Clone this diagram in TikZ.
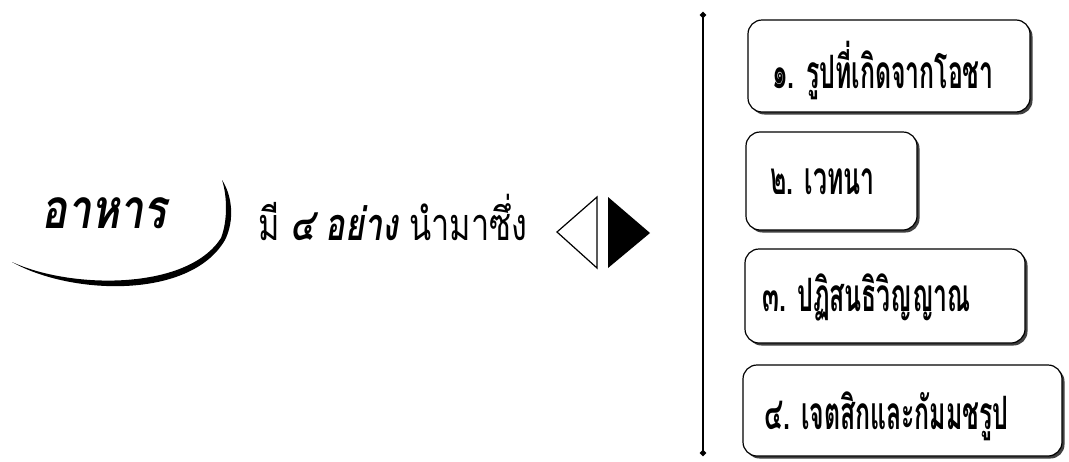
\documentclass[tikz,border=0pt]{standalone}
\usepackage{fontspec}
\newfontfamily\thai[Script=Thai]{Loma}
\newfontfamily\thaimid[Script=Thai,FakeStretch=0.72]{Loma}
\newfontfamily\thainarrow[Script=Thai,FakeStretch=0.54]{Loma}
\newfontfamily\thaititle[Script=Thai,FakeStretch=0.78]{Loma}
\usetikzlibrary{shadows,shapes.geometric}
\begin{document}
\begin{tikzpicture}[x=1pt,y=-1pt,
  itembox/.style={draw=black,line width=1.2pt,rounded corners=14pt,fill=white,
    drop shadow={shadow xshift=2.5pt,shadow yshift=-2.5pt,fill=black!75,opacity=1},
    inner sep=0pt},
  itemtext/.style={anchor=west,inner sep=0pt,font=\thainarrow\bfseries\fontsize{46}{50}\selectfont},
  dia/.style={fill=black,draw=none,diamond,inner sep=0pt,minimum size=7pt}]
\useasboundingbox (0,0) rectangle (1069,461);
\fill[white] (0,0) rectangle (1069,461);
% title and arc
\node[inner sep=0pt,font=\thaititle\bfseries\itshape\fontsize{55}{59}\selectfont] (food) at (104,213) {อาหาร};
\fill[black] (12,262) .. controls (70,295) and (190,300) .. (225,240)
  .. controls (235,220) and (232,195) .. (222,180)
  .. controls (227,195) and (228,220) .. (221,238)
  .. controls (187,291) and (70,289) .. (12,262) -- cycle;
\node[anchor=west,inner sep=0pt,font=\thaimid\fontsize{45}{49}\selectfont] (has) at (258,217)
  {มี {\bfseries\itshape ๔ อย่าง} นำมาซึ่ง};
% triangles
\draw[line width=1.2pt,line join=miter] (557,232) -- (597,197) -- (597,268) -- cycle;
\fill[black] (608,197) -- (650,233) -- (608,268) -- cycle;
% vertical line
\coordinate (top) at (703,15);
\coordinate (bot) at (703,453);
\draw[line width=1.3pt] (top) -- (bot);
\node[dia] (dtop) at (top) {};
\node[dia] (dbot) at (bot) {};
% boxes
\node[itembox,minimum width=282pt,minimum height=92pt] (b1) at (889,66) {};
\node[itembox,minimum width=171pt,minimum height=98pt] (b2) at (831.5,181) {};
\node[itembox,minimum width=280pt,minimum height=94pt] (b3) at (885,296) {};
\node[itembox,minimum width=319pt,minimum height=91pt] (b4) at (902.5,410.5) {};
\node[itemtext] (t1) at (772,71) {๑. รูปที่เกิดจากโอชา};
\node[itemtext] (t2) at (770,182) {๒. เวทนา};
\node[itemtext] (t3) at (762,297) {๓. ปฏิสนธิวิญญาณ};
\node[itemtext] (t4) at (764,416) {๔. เจตสิกและกัมมชรูป};
\end{tikzpicture}
\end{document}
